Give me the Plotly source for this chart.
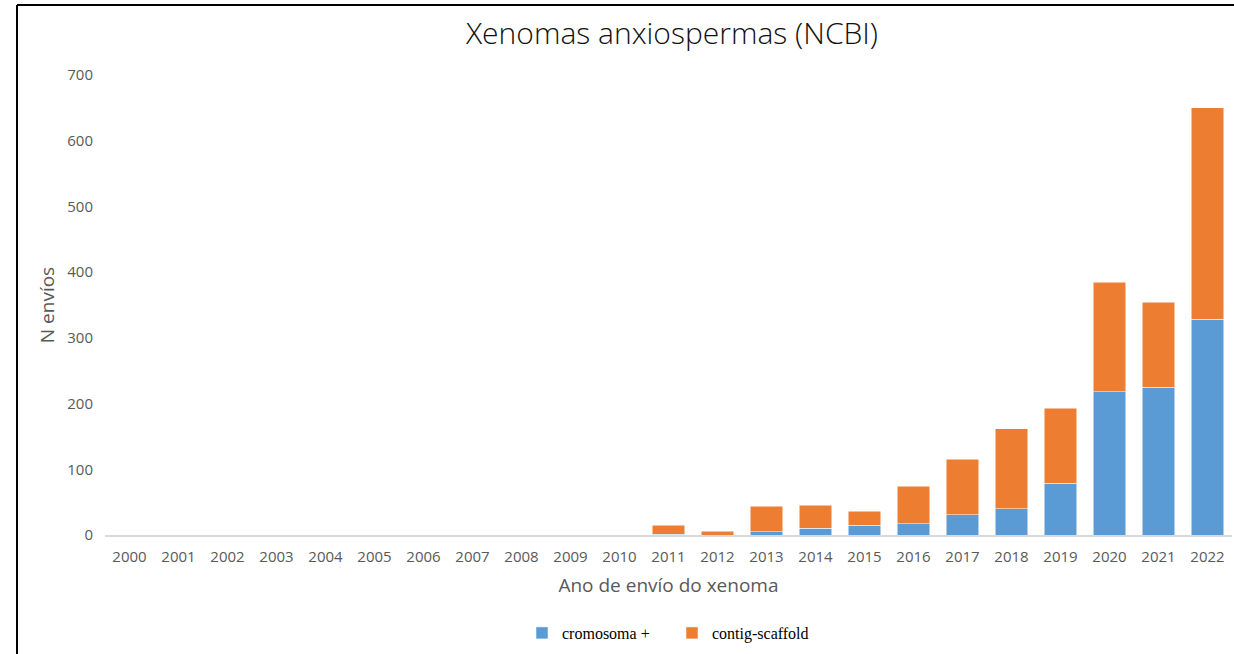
import plotly.graph_objects as go

years = [str(y) for y in range(2000, 2023)]
cromosoma = [0, 0, 0, 0, 0, 0, 0, 0, 0, 0, 0, 1, 0, 5, 10, 15, 17, 31, 40, 79, 218, 225, 328]
totals = [0, 0, 0, 0, 0, 0, 0, 0, 0, 0, 0, 15, 6, 44, 45, 36, 74, 115, 162, 193, 385, 354, 650]
contig = [t - c for t, c in zip(totals, cromosoma)]
y_ticks = [0, 100, 200, 300, 400, 500, 600, 700]

W, H = 1234, 654
ML, MR, MT, MB = 105, 2, 75, 119
pw, ph = W - ML - MR, H - MT - MB

def px(x):
    return (x - ML) / pw

def py(y):
    return (H - MB - y) / ph

GOTHIC = "Open Sans"
fig = go.Figure()
fig.add_trace(go.Bar(x=years, y=cromosoma, name="cromosoma +",
                     marker=dict(color="#5B9BD5", line=dict(color="#FFFFFF", width=0.5))))
fig.add_trace(go.Bar(x=years, y=contig, name="contig-scaffold",
                     marker=dict(color="#ED7D31", line=dict(color="#FFFFFF", width=0.5))))

fig.update_layout(
    width=W, height=H, barmode="stack", bargap=0.33,
    margin=dict(l=ML, r=MR, t=MT, b=MB),
    paper_bgcolor="white", plot_bgcolor="white",
    title=dict(text="Xenomas anxiospermas (NCBI)", x=672 / W, xanchor="center",
               y=1 - 33 / H, yanchor="middle",
               font=dict(family=GOTHIC, size=30, color="#111111", weight=300)),
    xaxis=dict(type="category", showline=True, linecolor="#D9D9D9", linewidth=2,
               ticks="", showgrid=False, ticklabelstandoff=7,
               tickfont=dict(family=GOTHIC, size=15, color="#595959"),
               title=dict(text="Ano de envío do xenoma", standoff=14,
                          font=dict(family=GOTHIC, size=19, color="#595959"))),
    yaxis=dict(range=[0, 700], tickvals=y_ticks, showgrid=False, zeroline=False,
               showline=False, ticks="", ticklabelstandoff=11,
               tickfont=dict(family=GOTHIC, size=15, color="#595959"),
               title=dict(text="N envíos", standoff=7,
                          font=dict(family=GOTHIC, size=19, color="#595959"))),
    legend=dict(orientation="h", x=px(672), xanchor="center", y=py(633), yanchor="middle",
                traceorder="normal",
                font=dict(family="Liberation Serif", size=16, color="#000000"),
                itemwidth=30, entrywidth=105),
    shapes=[
        dict(type="line", xref="paper", yref="paper", x0=px(17), x1=px(17),
             y0=py(5), y1=py(660), line=dict(color="black", width=2)),
        dict(type="line", xref="paper", yref="paper", x0=px(17), x1=px(1240),
             y0=py(5), y1=py(5), line=dict(color="black", width=2)),
    ],
)

fig.write_html("out.html", config={"displayModeBar": False},
               post_script="document.body.style.margin='0';document.body.style.overflow='hidden';")
